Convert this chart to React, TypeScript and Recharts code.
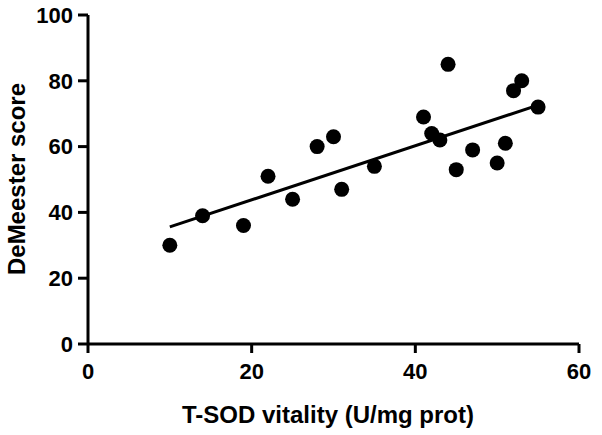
import React from "react";
import { ScatterChart, Scatter, XAxis, YAxis, Label } from "recharts";

const sodVitality = [10, 14, 19, 22, 25, 28, 30, 31, 35, 41, 42, 43, 44, 45, 47, 50, 51, 52, 53, 55];
const demeesterScore = [30, 39, 36, 51, 44, 60, 63, 47, 54, 69, 64, 62, 85, 53, 59, 55, 61, 77, 80, 72];
const fitX = [10, 55];
const fitY = [35.6, 72.6];
const xTicks = [0, 20, 40, 60];
const yTicks = [0, 20, 40, 60, 80, 100];

const points = sodVitality.map((x, i) => ({ x, y: demeesterScore[i] }));
const fitLine = fitX.map((x, i) => ({ x, y: fitY[i] }));

const FONT = "'Liberation Sans', Arial, Helvetica, sans-serif";

const Dot = (p: any) => <circle cx={p.cx} cy={p.cy} r={7.5} fill="#000" />;

export default function App() {
  return (
    <div style={{ position: "absolute", left: 0, top: 0, background: "#fff" }}>
      <ScatterChart width={602} height={435} margin={{ top: 15, right: 23, bottom: 0, left: 0 }}>
        <XAxis
          type="number"
          dataKey="x"
          domain={[0, 60]}
          ticks={xTicks}
          height={91}
          axisLine={{ stroke: "#000", strokeWidth: 3 }}
          tickLine={{ stroke: "#000", strokeWidth: 3 }}
          tickSize={9}
          tickMargin={10}
          tick={{ fill: "#000", fontSize: 22, fontWeight: "bold", fontFamily: FONT }}
        >
          <Label
            content={() => (
              <text
                x={328}
                y={423}
                textAnchor="middle"
                fill="#000"
                fontSize={24}
                fontWeight="bold"
                fontFamily={FONT}
              >
                T-SOD vitality (U/mg prot)
              </text>
            )}
          />
        </XAxis>
        <YAxis
          type="number"
          dataKey="y"
          domain={[0, 100]}
          ticks={yTicks}
          width={88}
          axisLine={{ stroke: "#000", strokeWidth: 3 }}
          tickLine={{ stroke: "#000", strokeWidth: 3 }}
          tickSize={10}
          tickMargin={5}
          tick={{ fill: "#000", fontSize: 22, fontWeight: "bold", fontFamily: FONT }}
        >
          <Label
            content={() => (
              <text
                x={25}
                y={179}
                transform="rotate(-90, 25, 179)"
                textAnchor="middle"
                fill="#000"
                fontSize={24}
                fontWeight="bold"
                fontFamily={FONT}
              >
                DeMeester score
              </text>
            )}
          />
        </YAxis>
        <Scatter data={fitLine} line={{ stroke: "#000", strokeWidth: 3 }} shape={() => null} isAnimationActive={false} />
        <Scatter data={points} shape={Dot} isAnimationActive={false} />
      </ScatterChart>
    </div>
  );
}
